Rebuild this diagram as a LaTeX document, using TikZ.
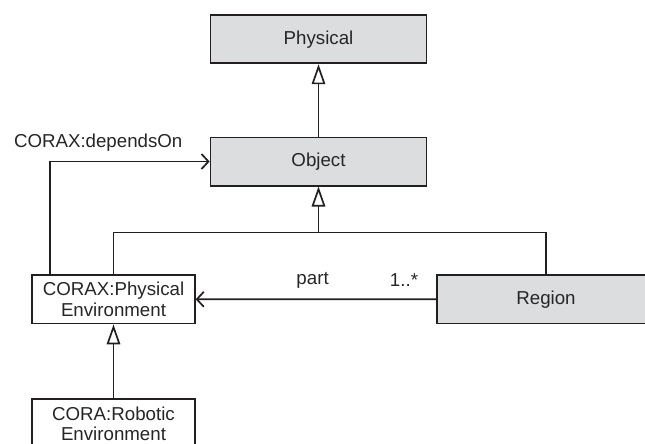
\documentclass[tikz,border=0pt]{standalone}
\usepackage{fontspec}
\setmainfont{Liberation Sans}
\usetikzlibrary{arrows.meta,calc}
\definecolor{ink}{HTML}{231F20}
\definecolor{txt}{HTML}{262626}
\definecolor{classfill}{HTML}{DCDDDF}
\begin{document}
\begin{tikzpicture}[x=1pt,y=-1pt,
  every node/.style={font=\fontsize{18.7}{20.7}\selectfont, text=txt},
  cls/.style={draw=ink, line width=1.7pt, rectangle, inner sep=0pt, align=center},
  grey/.style={cls, fill=classfill},
  plain/.style={cls, fill=white},
  lbl/.style={inner sep=0pt},
  conn/.style={draw=ink, line width=1.7pt},
  gen/.style={conn, -{Triangle[open, length=20pt, width=13.5pt, fill=white]}},
  assoc/.style={conn, -{Straight Barb[length=7pt, width=15pt, line width=1.7pt]}}]
  \useasboundingbox (0,0) rectangle (645,444);
  \clip (0,0) rectangle (645,444);

  % classes
  \node[grey, minimum width=216pt, minimum height=48.3pt] (physical) at (318.5,39.2) {Physical};
  \node[grey, minimum width=216pt, minimum height=48.3pt] (object) at (318.5,161.5) {Object};
  \node[plain, minimum width=162.6pt, minimum height=48.5pt] (physenv) at (113.5,299.3) {CORAX:Physical\\Environment};
  \node[grey, minimum width=218pt, minimum height=48.3pt] (region) at (546,299.2) {Region};
  \node[plain, minimum width=163pt, minimum height=49pt] (robenv) at (113.5,423.8) {CORA:Robotic\\Environment};

  % generalisations
  \draw[gen] (object) -- (physical);
  \coordinate (join) at (318.5,232.5);
  \draw[gen] (physenv.north) |- (join) -- (object.south);
  \draw[conn] (region.north) |- (join);
  \draw[gen] (robenv) -- (physenv);

  % associations
  \draw[assoc] ($(physenv.north west)+(18.6,0)$) |- (object.west);
  \node[lbl] (dep) at (98.2,142.7) {CORAX:dependsOn};
  \draw[assoc] (region.west) -- (physenv.east);
  \node[lbl] (partlbl) at (312.6,280) {part};
  \node[lbl] (mult) at (404,280) {1..*};
\end{tikzpicture}
\end{document}
